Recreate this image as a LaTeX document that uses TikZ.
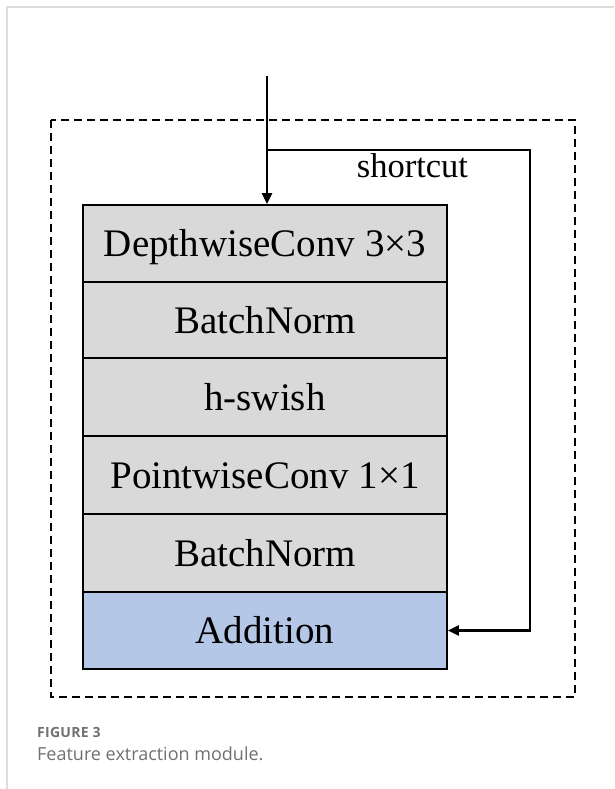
\documentclass[tikz,border=0pt]{standalone}
\usepackage{fontspec}
\setmainfont{Liberation Serif}
\newfontfamily\capfont{Open Sans}
\usetikzlibrary{arrows.meta}
\definecolor{rowgray}{HTML}{D9D9D9}
\definecolor{rowblue}{HTML}{B4C7E7}
\definecolor{framegray}{HTML}{DDDDDD}
\definecolor{capgray}{HTML}{707070}
\tikzset{
  layer/.style={draw=black, line width=1.8pt, fill=rowgray, minimum width=364pt,
    inner sep=0pt, font=\fontsize{39}{42}\selectfont, text height=26pt, text depth=0pt},
  flow/.style={line width=2.6pt, -{Triangle[length=11pt,width=10pt]}},
  outerbox/.style={draw=black, line width=1.8pt, dash pattern=on 8pt off 5pt},
}
\begin{document}
\begin{tikzpicture}[x=1pt,y=-1pt]
\useasboundingbox (0,0) rectangle (614,789);
% page frame
\draw[framegray, line width=1.5pt] (614,7) -- (7,7) -- (7,789);
% dashed module box
\draw[outerbox] (51,120) rectangle (575,697);
% layers
\node[layer, minimum height=77pt] (b1) at (265,243.5) {DepthwiseConv 3×3};
\node[layer, minimum height=76pt] (b2) at (265,320) {BatchNorm};
\node[layer, minimum height=78pt] (b3) at (265,397) {h-swish};
\node[layer, minimum height=78pt] (b4) at (265,475) {PointwiseConv 1×1};
\node[layer, minimum height=78pt] (b5) at (265,553) {BatchNorm};
\node[layer, minimum height=77pt, fill=rowblue] (b6) at (265,630.5) {Addition};
% connectors
\coordinate (in) at (267,76);
\coordinate (split) at (267,150);
\coordinate (corner1) at (530,150);
\draw[flow] (in) -- (b1.north -| in);
\draw[flow] (split) -- (corner1) |- (b6.east);
\node[font=\fontsize{34.5}{38}\selectfont, anchor=base, inner sep=0pt] (sc) at (412.5,177) {shortcut};
% caption
\node[anchor=base west, inner sep=0pt, text=capgray, font=\capfont\bfseries\fontsize{14}{16}\selectfont\addfontfeatures{LetterSpace=2}] (fig) at (37,737) {FIGURE 3};
\node[anchor=base west, inner sep=0pt, text=capgray, font=\capfont\fontsize{18}{21}\selectfont] (cap) at (37,760) {Feature extraction module.};
\end{tikzpicture}
\end{document}
